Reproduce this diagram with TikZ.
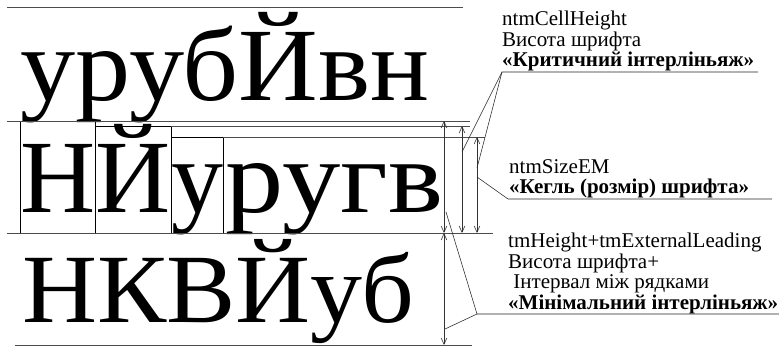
\documentclass[tikz,border=0pt]{standalone}
\usepackage{fontspec}
\setmainfont{Liberation Serif}
\newfontfamily\widerm[FakeStretch=1.06]{Liberation Serif}
\newfontfamily\widerrm[FakeStretch=1.12]{Liberation Serif}
\usetikzlibrary{arrows.meta,positioning,calc}

\begin{document}
\begin{tikzpicture}[
    x=1pt, y=-1pt,
    >={Straight Barb[length=2.2mm,width=2mm]},
    dimline/.style={<->, line width=0.6pt, draw=black!80},
    guide/.style={line width=0.7pt, draw=black!70},
    leader/.style={line width=0.55pt, draw=black!85},
    cell/.style={line width=1pt},
    bigtext/.style={
        anchor=base west,
        inner sep=0pt,
        font=\fontsize{104}{104}\selectfont
    },
    note/.style={
        anchor=north west,
        inner sep=0pt,
        align=left,
        font=\fontsize{21}{20.5}\selectfont
    }
]
\useasboundingbox (0,0) rectangle (779,348);

% reference levels
\coordinate (topLine) at (0,7);
\coordinate (ascA) at (0,121);
\coordinate (ascB) at (0,126);
\coordinate (ascC) at (0,137);
\coordinate (desc) at (0,233);
\coordinate (bottomLine) at (0,345);

% dimension columns
\coordinate (dimA) at (444,0);
\coordinate (dimB) at (462,0);
\coordinate (dimC) at (477,0);

% sample rows
\node[bigtext, font=\fontsize{104}{104}\widerm] (row1) at (20,100) {урубЙвн};
\node[bigtext] (cH) at (20,212) {Н};
\node[bigtext] (cJ) at (cH.base east) {Й};
\node[bigtext] (cU) at (cJ.base east) {у};
\node[bigtext, font=\fontsize{104}{104}\widerrm] (row2) at ([xshift=2pt]cU.base east) {ругв};
\node[bigtext, font=\fontsize{98}{98}\widerm] (row3) at (22,322) {НКВЙуб};

% character cells
\draw[cell] (cH.west |- desc) rectangle (cH.east |- ascA);
\draw[cell] (cJ.west |- desc) rectangle (cJ.east |- ascB);
\draw[cell] (cU.west |- desc) rectangle (cU.east |- ascC);

% horizontal guides
\draw[guide] ([xshift=7pt]topLine) -- (topLine -| 463,0);
\draw[guide] ([xshift=7pt]ascA) -- (ascA -| 470,0);
\draw[guide] (cJ.east |- ascB) -- (ascB -| 470,0);
\draw[guide] (cU.east |- ascC) -- (ascC -| 485,0);
\draw[guide] ([xshift=7pt]desc) -- (desc -| 493,0);
\draw[guide] ([xshift=15pt]bottomLine) -- (bottomLine -| 472,0);

% dimension arrows
\draw[dimline] (dimA |- ascA) -- (dimA |- desc);
\draw[dimline] (dimB |- ascB) -- (dimB |- desc);
\draw[dimline] (dimC |- ascC) -- (dimC |- desc);
\draw[dimline] (dimA |- desc) -- (dimA |- bottomLine);

% labels
\node[note] (cellNote) at (502,11)
{ntmCellHeight\\Висота шрифта\\\textbf{«Критичний інтерліньяж»}};
\node[note] (sizeNote) at (509,159)
{ntmSizeEM\\\textbf{«Кегль (розмір) шрифта»}};
\node[note] (heightNote) at (508,233)
{tmHeight+tmExternalLeading\\Висота шрифта+\\\hspace*{0.25em}Інтервал між рядками\\\textbf{«Мінімальний інтерліньяж»}};

% leaders
\coordinate (cellKnee) at (502,72);
\coordinate (sizeKnee) at (508,199);
\coordinate (heightKnee) at (477,314);
\draw[leader] (dimB |- 0,152) -- (cellKnee) -- (758,72);
\draw[leader] (dimC |- 0,168) -- (cellKnee);
\draw[leader] (dimC |- 0,177) -- (sizeKnee) -- (772,199);
\draw[leader] (446,212) -- (heightKnee) -- (779,314);
\draw[leader] (445,329) -- (heightKnee);

\end{tikzpicture}
\end{document}
